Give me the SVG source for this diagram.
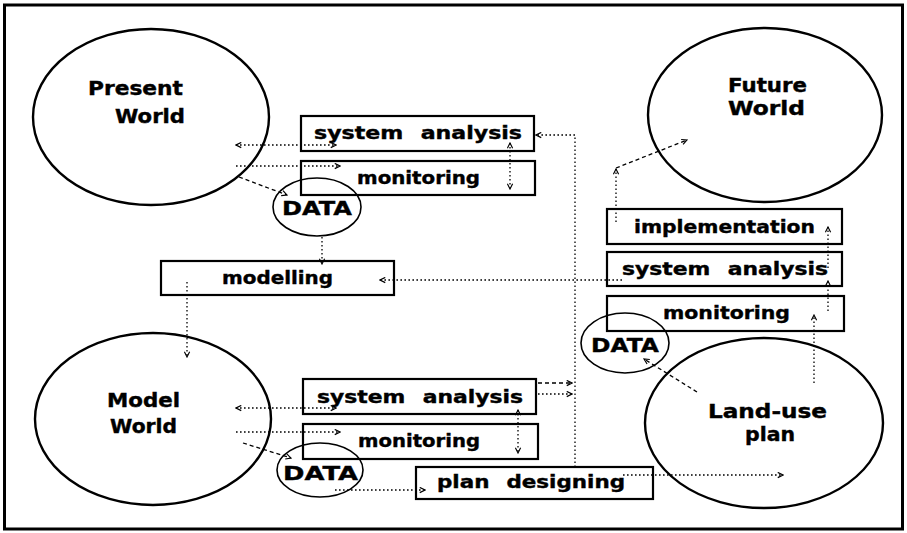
<svg xmlns="http://www.w3.org/2000/svg" width="907" height="533" viewBox="0 0 907 533">
  <style>
    .lbl { font-family: "DejaVu Sans", "Liberation Sans", sans-serif; font-weight: bold; fill: #000; stroke: #000; stroke-width: 0.4; }
    .big { font-size: 19px; }
    .bx { font-size: 18px; }
    .ws { word-spacing: 8px; }
    .dt { font-size: 20px; }
    .world { fill: none; stroke: #000; stroke-width: 2.4; }
    .data { fill: none; stroke: #000; stroke-width: 1.6; }
    .box { fill: none; stroke: #000; stroke-width: 2.2; }
    .dot { fill: none; stroke: #000; stroke-width: 1.3; stroke-dasharray: 1.6 2.4; }
    .dash { fill: none; stroke: #000; stroke-width: 1.3; stroke-dasharray: 4 3; }
  </style>
  <defs>
    <marker id="ah" viewBox="0 0 8 8" refX="7" refY="4" markerWidth="7" markerHeight="7" orient="auto-start-reverse" markerUnits="userSpaceOnUse">
      <path d="M1,1 L7,4 L1,7" fill="none" stroke="#000" stroke-width="1.3"/>
    </marker>
  </defs>

  <rect x="4.5" y="5" width="898" height="524" fill="#fff" stroke="#000" stroke-width="3"/>

  <!-- connectors -->
  <g id="connectors">
    <path class="dot" d="M236,145 H336" marker-start="url(#ah)" marker-end="url(#ah)"/>
    <path class="dot" d="M236,166 H340" marker-end="url(#ah)"/>
    <path class="dash" d="M239,177 L287,195" marker-end="url(#ah)"/>
    <path class="dot" d="M510,143 V189" marker-start="url(#ah)" marker-end="url(#ah)"/>
    <path class="dot" d="M575,467 V135 H536" marker-end="url(#ah)"/>
    <path class="dot" d="M322,237 V264" marker-end="url(#ah)"/>
    <path class="dot" d="M622,280 H380" marker-end="url(#ah)"/>
    <path class="dot" d="M187,282 V357" marker-end="url(#ah)"/>

    <path class="dot" d="M236,408 H336" marker-start="url(#ah)" marker-end="url(#ah)"/>
    <path class="dot" d="M236,432 H340" marker-end="url(#ah)"/>
    <path class="dash" d="M243,443 L291,458" marker-end="url(#ah)"/>
    <path class="dot" d="M518,410 V453" marker-start="url(#ah)" marker-end="url(#ah)"/>
    <path class="dash" d="M538,383 H572" marker-end="url(#ah)"/>
    <path class="dot" d="M538,394 H572" marker-end="url(#ah)"/>
    <path class="dot" d="M335,490 H425" marker-end="url(#ah)"/>
    <path class="dot" d="M623,475 H783" marker-end="url(#ah)"/>

    <path class="dash" d="M697,392 L644,359" marker-end="url(#ah)"/>
    <path class="dot" d="M814,383 V315" marker-end="url(#ah)"/>
    <path class="dot" d="M828,311 V281" marker-end="url(#ah)"/>
    <path class="dot" d="M828,268 V227" marker-end="url(#ah)"/>
    <path class="dot" d="M616,222 V169" marker-end="url(#ah)"/>
    <path class="dash" d="M616,168 L687,140" marker-end="url(#ah)"/>
  </g>

  <!-- worlds -->
  <g id="present-world">
    <ellipse class="world" cx="151" cy="117" rx="118" ry="88"/>
    <text class="lbl big" x="88" y="95" textLength="95" lengthAdjust="spacingAndGlyphs">Present</text>
    <text class="lbl big" x="115" y="123" textLength="70" lengthAdjust="spacingAndGlyphs">World</text>
  </g>
  <g id="future-world">
    <ellipse class="world" cx="765" cy="115" rx="117" ry="87"/>
    <text class="lbl big" x="728" y="92" textLength="79" lengthAdjust="spacingAndGlyphs">Future</text>
    <text class="lbl big" x="728" y="115" textLength="77" lengthAdjust="spacingAndGlyphs">World</text>
  </g>
  <g id="model-world">
    <ellipse class="world" cx="153" cy="419" rx="118" ry="86"/>
    <text class="lbl big" x="107" y="407" textLength="73" lengthAdjust="spacingAndGlyphs">Model</text>
    <text class="lbl big" x="110" y="433" textLength="67" lengthAdjust="spacingAndGlyphs">World</text>
  </g>
  <g id="land-use-plan">
    <ellipse class="world" cx="764" cy="423" rx="119" ry="85"/>
    <text class="lbl big" x="708" y="418" textLength="119" lengthAdjust="spacingAndGlyphs">Land-use</text>
    <text class="lbl big" x="745" y="441" textLength="50" lengthAdjust="spacingAndGlyphs">plan</text>
  </g>

  <!-- data stores -->
  <g id="data-present">
    <ellipse class="data" cx="317" cy="207" rx="44" ry="29"/>
    <text class="lbl dt" x="282" y="215" textLength="70" lengthAdjust="spacingAndGlyphs">DATA</text>
  </g>
  <g id="data-landuse">
    <ellipse class="data" cx="625" cy="343" rx="44" ry="30"/>
    <text class="lbl dt" x="591" y="352" textLength="68" lengthAdjust="spacingAndGlyphs">DATA</text>
  </g>
  <g id="data-model">
    <ellipse class="data" cx="320" cy="470" rx="43" ry="27"/>
    <text class="lbl dt" x="283" y="480" textLength="75" lengthAdjust="spacingAndGlyphs">DATA</text>
  </g>

  <!-- process boxes -->
  <g id="sysan-present">
    <rect class="box" x="301" y="116" width="233" height="35"/>
    <text class="lbl bx ws" x="314" y="139" textLength="208" lengthAdjust="spacingAndGlyphs">system analysis</text>
  </g>
  <g id="monitor-present">
    <rect class="box" x="301" y="161" width="234" height="34"/>
    <text class="lbl bx" x="357" y="184" textLength="123" lengthAdjust="spacingAndGlyphs">monitoring</text>
  </g>
  <g id="modelling">
    <rect class="box" x="161" y="261" width="233" height="34"/>
    <text class="lbl bx" x="222" y="284" textLength="111" lengthAdjust="spacingAndGlyphs">modelling</text>
  </g>
  <g id="implementation">
    <rect class="box" x="607" y="209" width="235" height="35"/>
    <text class="lbl bx" x="634" y="233" textLength="181" lengthAdjust="spacingAndGlyphs">implementation</text>
  </g>
  <g id="sysan-landuse">
    <rect class="box" x="607" y="252" width="235" height="34"/>
    <text class="lbl bx ws" x="622" y="275" textLength="206" lengthAdjust="spacingAndGlyphs">system analysis</text>
  </g>
  <g id="monitor-landuse">
    <rect class="box" x="607" y="296" width="237" height="35"/>
    <text class="lbl bx" x="663" y="319" textLength="127" lengthAdjust="spacingAndGlyphs">monitoring</text>
  </g>
  <g id="sysan-model">
    <rect class="box" x="303" y="379" width="233" height="35"/>
    <text class="lbl bx ws" x="317" y="403" textLength="206" lengthAdjust="spacingAndGlyphs">system analysis</text>
  </g>
  <g id="monitor-model">
    <rect class="box" x="303" y="424" width="235" height="35"/>
    <text class="lbl bx" x="358" y="447" textLength="122" lengthAdjust="spacingAndGlyphs">monitoring</text>
  </g>
  <g id="plan-designing">
    <rect class="box" x="416" y="467" width="237" height="32"/>
    <text class="lbl bx ws" x="437" y="488" textLength="188" lengthAdjust="spacingAndGlyphs">plan designing</text>
  </g>
</svg>
